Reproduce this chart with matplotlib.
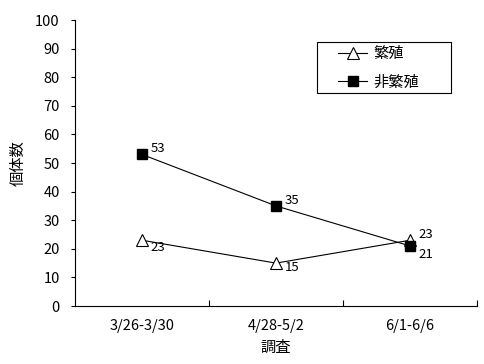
import matplotlib.pyplot as plt
from matplotlib.patches import Rectangle

plt.rcParams['font.family'] = ['Noto Sans CJK JP', 'DejaVu Sans']

# Data
periods = ['3/26-3/30', '4/28-5/2', '6/1-6/6']
breeding = [23, 15, 23]
non_breeding = [53, 35, 21]

fig = plt.figure(figsize=(4.85, 3.64), dpi=100)
ax = fig.add_axes([0.1546, 0.1593, 0.8289, 0.7857])

x = [i + 0.5 for i in range(len(periods))]
ax.plot(x, breeding, color='black', lw=0.8, marker='^', ms=8,
        mfc='white', mec='black', mew=0.8, label='繁殖')
ax.plot(x, non_breeding, color='black', lw=0.8, marker='s', ms=7,
        mfc='black', mec='black', label='非繁殖')

# Value labels (offsets in points)
nb_off = [(6, 4), (6, 4), (6, -6)]
b_off = [(6, -5), (6, -3), (6, 4)]
for xi, v, off in zip(x, non_breeding, nb_off):
    ax.annotate(str(v), (xi, v), xytext=off, textcoords='offset points',
                ha='left', va='center', fontsize=9.5)
for xi, v, off in zip(x, breeding, b_off):
    ax.annotate(str(v), (xi, v), xytext=off, textcoords='offset points',
                ha='left', va='center', fontsize=9.5)

ax.set_xlim(0, 3)
ax.set_ylim(0, 100)
ax.set_yticks(range(0, 101, 10))
ax.set_xticks([1, 2, 3])
ax.set_xticklabels([])
ax.set_xticks(x, minor=True)
ax.set_xticklabels(periods, minor=True, fontsize=10.5)
ax.tick_params(axis='x', which='major', direction='in', length=4, width=0.8)
ax.tick_params(axis='x', which='minor', length=0, pad=9)
ax.tick_params(axis='y', direction='out', length=3, width=0.8, labelsize=10.5, pad=8)

ax.spines['top'].set_visible(False)
ax.spines['right'].set_visible(False)
ax.spines['left'].set_linewidth(0.8)
ax.spines['bottom'].set_linewidth(0.8)

ax.set_xlabel('調査', fontsize=11)
ax.set_ylabel('個体数', fontsize=11)
ax.xaxis.set_label_coords(0.5, -0.115)
ax.yaxis.set_label_coords(-0.119, 0.5)

# Legend with a fixed-size frame like the original
leg = ax.legend(loc='center left', bbox_to_anchor=(338 / 485, 1 - 68 / 364),
                bbox_transform=fig.transFigure, borderaxespad=0, borderpad=0,
                fontsize=11, frameon=False, handlelength=1.9,
                handletextpad=0.4, labelspacing=0.75)
fig.patches.append(Rectangle((317 / 485, 1 - 93 / 364), 134 / 485, 51 / 364,
                             transform=fig.transFigure, fill=False,
                             edgecolor='black', lw=0.8))

fig.savefig('out.png', dpi=100)
